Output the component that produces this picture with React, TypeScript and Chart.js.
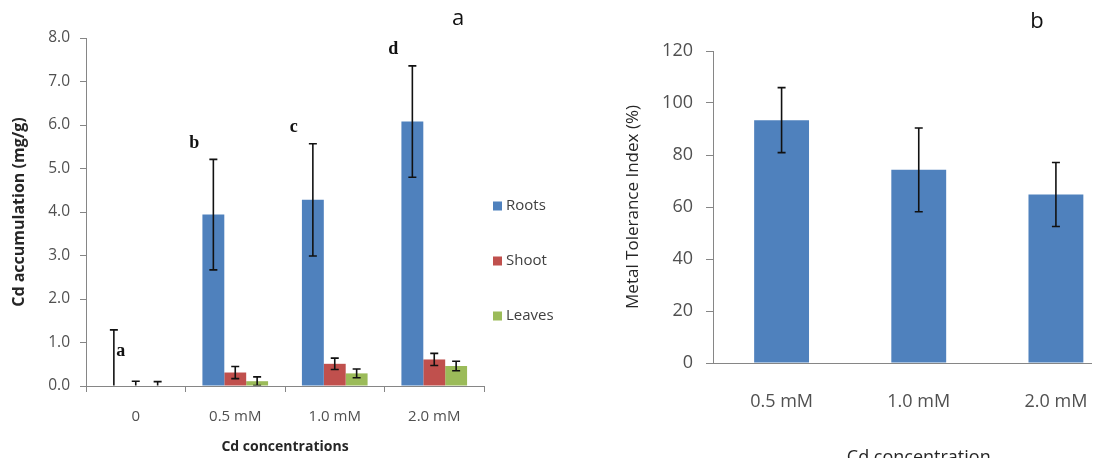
import { useEffect, useRef } from "react";
import { Chart, registerables } from "chart.js";

Chart.register(...registerables);

// ---------- Panel a data ----------
const categoriesA = ["0", "0.5 mM", "1.0 mM", "2.0 mM"];
const rootsValues = [0, 3.94, 4.28, 6.08];
const rootsErrors = [1.29, 1.27, 1.29, 1.28];
const shootValues = [0, 0.31, 0.51, 0.61];
const shootErrors = [0.11, 0.14, 0.13, 0.14];
const leavesValues = [0, 0.11, 0.29, 0.46];
const leavesErrors = [0.1, 0.1, 0.1, 0.11];
const rootsLetters = ["a", "b", "c", "d"];
const yTicksA = [0, 1, 2, 3, 4, 5, 6, 7, 8];

// ---------- Panel b data ----------
const categoriesB = ["0.5 mM", "1.0 mM", "2.0 mM"];
const mtiValues = [93.4, 74.3, 64.8];
const mtiErrors = [12.5, 16.1, 12.3];
const yTicksB = [0, 20, 40, 60, 80, 100, 120];

const SANS = "'Open Sans', 'Liberation Sans', sans-serif";
const SERIF = "'Liberation Serif', 'DejaVu Serif', serif";
const AXIS = "#868686";
const TICK = "#505050";

const errorBarPlugin = {
  id: "errorBars",
  afterDatasetsDraw(chart: any) {
    const { ctx, chartArea } = chart;
    const yScale = chart.scales.y;
    ctx.save();
    ctx.beginPath();
    ctx.rect(
      chartArea.left,
      chartArea.top - 30,
      chartArea.right - chartArea.left,
      chartArea.bottom - chartArea.top + 30 - 0.5
    );
    ctx.clip();
    chart.data.datasets.forEach((ds: any, di: number) => {
      const errs = ds.errors;
      if (!errs) return;
      const meta = chart.getDatasetMeta(di);
      meta.data.forEach((el: any, i: number) => {
        const v = ds.data[i];
        const e = errs[i];
        const x = el.x;
        const yt = yScale.getPixelForValue(v + e);
        const yb = yScale.getPixelForValue(v - e);
        ctx.strokeStyle = "#111111";
        ctx.lineWidth = 1.6;
        ctx.beginPath();
        ctx.moveTo(x, yt);
        ctx.lineTo(x, yb);
        ctx.moveTo(x - 4, yt);
        ctx.lineTo(x + 4, yt);
        ctx.moveTo(x - 4, yb);
        ctx.lineTo(x + 4, yb);
        ctx.stroke();
      });
    });
    ctx.restore();
  },
};

const panelAExtras = {
  id: "panelAExtras",
  afterDraw(chart: any) {
    const { ctx, chartArea } = chart;
    const yScale = chart.scales.y;
    ctx.save();
    // legend
    chart.data.datasets.forEach((ds: any, i: number) => {
      const y = chartArea.top + 168 + i * 55;
      ctx.fillStyle = ds.backgroundColor;
      ctx.fillRect(chartArea.right + 9, y - 4.5, 9, 9);
      ctx.fillStyle = "#404040";
      ctx.font = `15px ${SANS}`;
      ctx.textBaseline = "middle";
      ctx.textAlign = "left";
      ctx.fillText(ds.label, chartArea.right + 22, y);
    });
    // significance letters above roots bars
    const meta = chart.getDatasetMeta(0);
    ctx.fillStyle = "#111111";
    ctx.font = `bold 18px ${SERIF}`;
    ctx.textAlign = "center";
    ctx.textBaseline = "middle";
    rootsLetters.forEach((letter, i) => {
      const el = meta.data[i];
      const top = yScale.getPixelForValue(rootsValues[i] + rootsErrors[i]);
      if (i === 0) {
        ctx.fillText(letter, el.x + 7, top + 21);
      } else {
        ctx.fillText(letter, el.x - 19, top - 16);
      }
    });
    // panel title
    ctx.fillStyle = "#111111";
    ctx.font = `22px ${SANS}`;
    ctx.fillText("a", chartArea.left + 372, 19);
    ctx.restore();
  },
};

const panelBExtras = {
  id: "panelBExtras",
  afterDraw(chart: any) {
    const { ctx, chartArea } = chart;
    ctx.save();
    ctx.fillStyle = "#111111";
    ctx.font = `22px ${SANS}`;
    ctx.textAlign = "center";
    ctx.textBaseline = "middle";
    ctx.fillText("b", chartArea.left + 324, 22);
    ctx.restore();
  },
};

function PanelA() {
  const ref = useRef<HTMLCanvasElement | null>(null);
  useEffect(() => {
    if (!ref.current) return;
    const chart = new Chart(ref.current, {
      type: "bar",
      data: {
        labels: categoriesA,
        datasets: [
          { label: "Roots", data: rootsValues, backgroundColor: "#4F81BD", errors: rootsErrors } as any,
          { label: "Shoot", data: shootValues, backgroundColor: "#C0504D", errors: shootErrors } as any,
          { label: "Leaves", data: leavesValues, backgroundColor: "#9BBB59", errors: leavesErrors } as any,
        ],
      },
      options: {
        responsive: false,
        animation: false,
        devicePixelRatio: 1,
        layout: { padding: { left: 0, top: 38, right: 116, bottom: 0 } },
        datasets: { bar: { barPercentage: 1, categoryPercentage: 0.66 } },
        plugins: { legend: { display: false }, tooltip: { enabled: false } },
        scales: {
          x: {
            grid: { drawOnChartArea: false, drawTicks: true, tickLength: 6, color: AXIS, offset: true },
            border: { color: AXIS },
            ticks: { color: TICK, font: { family: SANS, size: 15 }, padding: 16 },
            title: {
              display: true,
              text: "Cd concentrations",
              color: "#262626",
              font: { family: SANS, size: 14, weight: "bold" },
              padding: { top: 0, bottom: 3 },
            },
            afterFit: (s: any) => {
              s.height = 72;
            },
          },
          y: {
            min: 0,
            max: 8,
            afterBuildTicks: (s: any) => {
              s.ticks = yTicksA.map((v) => ({ value: v }));
            },
            grid: { drawOnChartArea: false, drawTicks: true, tickLength: 6, color: AXIS },
            border: { color: AXIS },
            ticks: {
              color: TICK,
              font: { family: SANS, size: 15.5 },
              padding: 10,
              callback: (v: any) => Number(v).toFixed(1),
            },
            title: {
              display: true,
              text: "Cd accumulation (mg/g)",
              color: "#262626",
              font: { family: SANS, size: 16, weight: "bold" },
              padding: { top: 10, bottom: 0 },
            },
            afterFit: (s: any) => {
              s.width = 86;
            },
          },
        },
      } as any,
      plugins: [errorBarPlugin, panelAExtras],
    });
    return () => chart.destroy();
  }, []);
  return (
    <canvas
      ref={ref}
      width={600}
      height={458}
      style={{ position: "absolute", left: 0, top: 0, width: 600, height: 458 }}
    />
  );
}

function PanelB() {
  const ref = useRef<HTMLCanvasElement | null>(null);
  useEffect(() => {
    if (!ref.current) return;
    const chart = new Chart(ref.current, {
      type: "bar",
      data: {
        labels: categoriesB,
        datasets: [
          { label: "Metal Tolerance Index", data: mtiValues, backgroundColor: "#4F81BD", errors: mtiErrors } as any,
        ],
      },
      options: {
        responsive: false,
        animation: false,
        devicePixelRatio: 1,
        layout: { padding: { left: 0, top: 51, right: 5.5, bottom: 0 } },
        datasets: { bar: { barPercentage: 0.4, categoryPercentage: 1 } },
        plugins: { legend: { display: false }, tooltip: { enabled: false } },
        scales: {
          x: {
            grid: { drawOnChartArea: false, drawTicks: false, color: AXIS },
            border: { color: AXIS },
            ticks: { color: TICK, font: { family: SANS, size: 18 }, padding: 28 },
            title: {
              display: true,
              text: "Cd concentration",
              color: "#262626",
              font: { family: SANS, size: 18 },
              padding: { top: 0, bottom: 1 },
            },
            afterFit: (s: any) => {
              s.height = 107;
            },
          },
          y: {
            min: 0,
            max: 120,
            afterBuildTicks: (s: any) => {
              s.ticks = yTicksB.map((v) => ({ value: v }));
            },
            grid: { drawOnChartArea: false, drawTicks: true, tickLength: 7, color: AXIS },
            border: { color: AXIS },
            ticks: { color: TICK, font: { family: SANS, size: 18 }, padding: 13 },
            title: {
              display: true,
              text: "Metal Tolerance Index (%)",
              color: "#262626",
              font: { family: SANS, size: 17 },
              padding: { top: 23, bottom: 0 },
            },
            afterFit: (s: any) => {
              s.width = 113;
            },
          },
        },
      } as any,
      plugins: [errorBarPlugin, panelBExtras],
    });
    return () => chart.destroy();
  }, []);
  return (
    <canvas
      ref={ref}
      width={530}
      height={470}
      style={{ position: "absolute", left: 0, top: 0, width: 530, height: 470 }}
    />
  );
}

export default function App() {
  return (
    <div
      style={{
        position: "fixed",
        left: 0,
        top: 0,
        width: 1099,
        height: 458,
        overflow: "hidden",
        background: "#ffffff",
      }}
    >
      <PanelA />
      <div
        style={{
          position: "absolute",
          left: 600,
          top: 0,
          width: 492,
          height: 458,
          overflow: "hidden",
        }}
      >
        <PanelB />
      </div>
    </div>
  );
}
